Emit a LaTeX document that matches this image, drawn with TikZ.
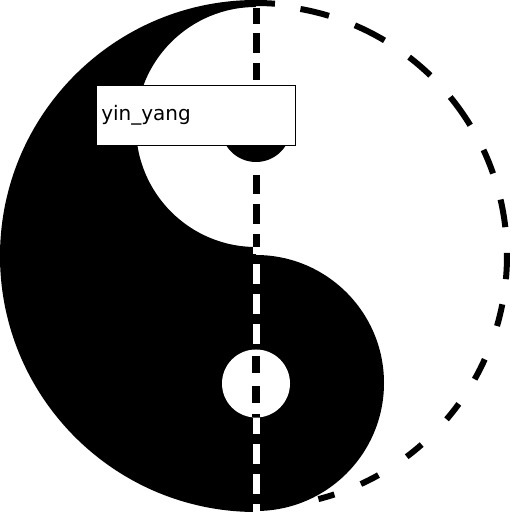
\documentclass[tikz,border=0pt]{standalone}
\usepackage{fontspec}
\setmainfont{DejaVu Sans}
\tikzset{
 yinshape/.style={fill=black,draw=none},
 axisdash/.style={line width=7pt},
 eyedash/.style={fill=black,draw=none},
 rimdash/.style={draw=black,line width=6pt},
 labelbox/.style={draw=black,line width=1pt,fill=white,minimum height=60pt,text width=189.5pt,
   inner xsep=5pt,inner ysep=0pt,align=left,font=\fontsize{20}{24}\selectfont,anchor=west}
}
\def\yinpath{(256,512) arc[start angle=90,end angle=270,radius=256] -- (256,1)
  arc[start angle=-90,end angle=90,radius=128] -- (256,265)
  arc[start angle=270,end angle=90,radius=120] -- cycle}
\begin{document}
\begin{tikzpicture}[x=1pt,y=1pt]
\useasboundingbox (0,0) rectangle (512,512);
\fill[white] (0,0) rectangle (512,512);
\fill[yinshape] \yinpath;
\fill[yinshape] (256,385) circle[radius=35];
\draw[rimdash] (256,509) arc[start angle=90,end angle=85.7,radius=253];
\foreach \a/\b in {79.8/73.1,66.8/59.2,52.4/46,39.3/31.4,25/19.2,13/6.6,0.7/-5.3,
   -11.1/-16.2,-24.3/-29.4,-36.1/-40.6,-48.7/-53.1,-60.8/-65.3,-71.8/-75.6}
  \draw[rimdash] ({256+251*cos(\a)},{256+251*sin(\a)}) arc[start angle=\a,end angle=\b,radius=251];
\foreach \t/\e in {504/488,479/459,449/432,337/318,308/288,278/265}
  \draw[axisdash,draw=black] (256,\t) -- (256,\e);
\foreach \t/\e in {265/258,248/228,218/198,188/168,94/78,68/48,38/18,8/0}
  \draw[axisdash,draw=white] (256,\t) -- (256,\e);
\fill[white] (256,128.5) circle[radius=34];
\node[labelbox] (lbl) at (95.8,396.7) {yin\_yang};
\fill[eyedash] (252,139) rectangle (260,156);
\fill[eyedash] (252,109) rectangle (260,126);
\fill[eyedash] (252,95) rectangle (260,98);
\end{tikzpicture}
\end{document}
